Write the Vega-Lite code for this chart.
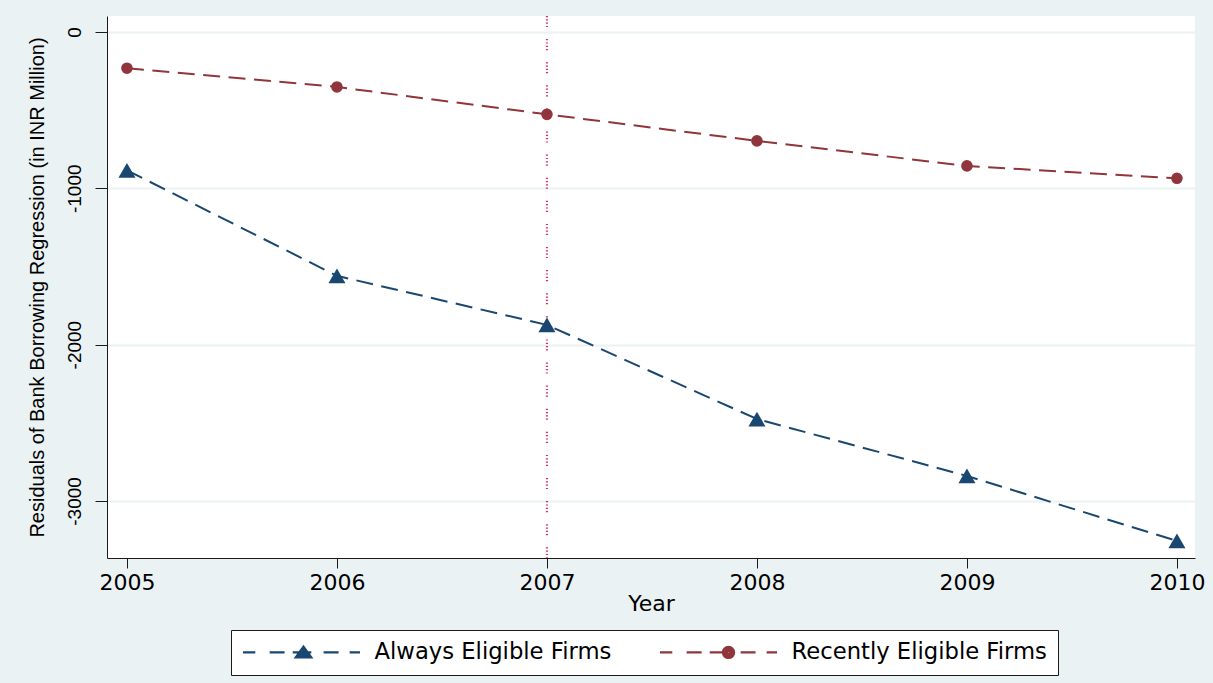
{
  "$schema": "https://vega.github.io/schema/vega-lite/v6.json",
  "width": 1088,
  "height": 542,
  "autosize": {"type": "none"},
  "padding": {"left": 107, "top": 16, "right": 18, "bottom": 125},
  "background": "#eaf2f3",
  "config": {
    "view": {"stroke": null, "fill": "white"},
    "axis": {
      "domainColor": "#1a1a1a",
      "domainWidth": 1,
      "tickColor": "#1a1a1a",
      "tickWidth": 1,
      "labelColor": "black",
      "titleColor": "black",
      "titleFontWeight": "normal",
      "labelFlush": false,
      "labelOverlap": false
    }
  },
  "data": {
    "values": [
      {"year": 2005, "series": "Always Eligible Firms", "value": -885},
      {"year": 2006, "series": "Always Eligible Firms", "value": -1560},
      {"year": 2007, "series": "Always Eligible Firms", "value": -1874},
      {"year": 2008, "series": "Always Eligible Firms", "value": -2476},
      {"year": 2009, "series": "Always Eligible Firms", "value": -2840},
      {"year": 2010, "series": "Always Eligible Firms", "value": -3256},
      {"year": 2005, "series": "Recently Eligible Firms", "value": -232},
      {"year": 2006, "series": "Recently Eligible Firms", "value": -352},
      {"year": 2007, "series": "Recently Eligible Firms", "value": -527},
      {"year": 2008, "series": "Recently Eligible Firms", "value": -697},
      {"year": 2009, "series": "Recently Eligible Firms", "value": -857},
      {"year": 2010, "series": "Recently Eligible Firms", "value": -936}
    ]
  },
  "encoding": {
    "x": {
      "field": "year",
      "type": "quantitative",
      "scale": {"domain": [2004.905, 2010.086], "nice": false, "zero": false},
      "axis": {
        "values": [2005, 2006, 2007, 2008, 2009, 2010],
        "format": "d",
        "grid": false,
        "tickSize": 10,
        "labelPadding": 4,
        "labelFont": "DejaVu Sans",
        "labelFontSize": 22,
        "title": "Year",
        "titleFont": "DejaVu Sans",
        "titleFontSize": 22,
        "titlePadding": 0
      }
    }
  },
  "layer": [
    {
      "data": {"values": [{"year": 2007}]},
      "mark": {
        "type": "rule",
        "color": "#d8305f",
        "strokeWidth": 2.2,
        "strokeDash": [1.2, 2.1, 1.2, 2.1, 1.2, 2.1, 1.2, 12]
      },
      "encoding": {"x": {"field": "year", "type": "quantitative"}}
    },
    {
      "transform": [{"filter": "datum.series === 'Always Eligible Firms'"}],
      "mark": {"type": "line", "color": "#1a476f", "strokeWidth": 2, "strokeDash": [17, 8.5]},
      "encoding": {
        "y": {
          "field": "value",
          "type": "quantitative",
          "scale": {"domain": [-3365, 102], "nice": false, "zero": false},
          "axis": {
            "values": [-3000, -2000, -1000, 0],
            "labelExpr": "'' + datum.value",
            "grid": true,
            "gridColor": "#eaf2f3",
            "gridWidth": 2,
            "tickSize": 12,
            "labelAngle": 270,
            "labelAlign": "center",
            "labelBaseline": "bottom",
            "labelPadding": 11,
            "labelFont": "Liberation Sans",
            "labelFontSize": 19,
            "title": "Residuals of Bank Borrowing Regression (in INR Million)",
            "titleFont": "Liberation Sans",
            "titleFontSize": 20,
            "titlePadding": 18
          }
        }
      }
    },
    {
      "transform": [{"filter": "datum.series === 'Recently Eligible Firms'"}],
      "mark": {"type": "line", "color": "#90353b", "strokeWidth": 2, "strokeDash": [17, 8.5]},
      "encoding": {"y": {"field": "value", "type": "quantitative"}}
    },
    {
      "transform": [{"filter": "datum.series === 'Always Eligible Firms'"}],
      "mark": {"type": "point", "shape": "triangle-up", "size": 290, "filled": true, "opacity": 1, "color": "#1a476f"},
      "encoding": {"y": {"field": "value", "type": "quantitative"}}
    },
    {
      "transform": [{"filter": "datum.series === 'Recently Eligible Firms'"}],
      "mark": {"type": "point", "shape": "circle", "size": 135, "filled": true, "opacity": 1, "color": "#90353b"},
      "encoding": {"y": {"field": "value", "type": "quantitative"}}
    },
    {
      "mark": {"type": "point", "filled": false, "opacity": 0, "size": 400, "strokeWidth": 2.2},
      "encoding": {
        "y": {"field": "value", "type": "quantitative"},
        "color": {
          "field": "series",
          "type": "nominal",
          "scale": {"domain": ["Always Eligible Firms", "Recently Eligible Firms"], "range": ["#1a476f", "#90353b"]},
          "legend": {
            "title": null,
            "orient": "none",
            "legendX": 124,
            "legendY": 614,
            "direction": "horizontal",
            "columns": 2,
            "gridAlign": "all",
            "padding": 10.5,
            "columnPadding": 25,
            "symbolSize": 400,
            "symbolOpacity": 1,
            "symbolStrokeWidth": 2.2,
            "labelOffset": 110,
            "labelLimit": 600,
            "labelFont": "DejaVu Sans",
            "labelFontSize": 22.7,
            "labelColor": "black",
            "fillColor": "white",
            "strokeColor": "#1a1a1a"
          }
        },
        "shape": {
          "field": "series",
          "type": "nominal",
          "scale": {
            "domain": ["Always Eligible Firms", "Recently Eligible Firms"],
            "range": [
              "M-1,0H0.23M1.66,0H3.16M3.97,0H5.83M7.06,0H8.56M9.66,0H10.7M5.05,-0.58L5.83,0.5L4.27,0.5ZM5.05,-0.436L5.674,0.428L4.426,0.428ZM5.05,-0.292L5.518,0.356L4.582,0.356ZM5.05,-0.184L5.401,0.302L4.699,0.302ZM5.05,-0.04L5.245,0.23L4.855,0.23Z",
              "M-1,0H0.23M1.66,0H3.16M3.97,0H5.73M7.06,0H8.56M9.66,0H10.7M5.29,0A0.56,0.56 0 1,0 6.41,0A0.56,0.56 0 1,0 5.29,0ZM5.39,0A0.46,0.46 0 1,0 6.31,0A0.46,0.46 0 1,0 5.39,0ZM5.49,0A0.36,0.36 0 1,0 6.21,0A0.36,0.36 0 1,0 5.49,0ZM5.59,0A0.26,0.26 0 1,0 6.11,0A0.26,0.26 0 1,0 5.59,0ZM5.69,0A0.16,0.16 0 1,0 6.01,0A0.16,0.16 0 1,0 5.69,0ZM5.78,0A0.07,0.07 0 1,0 5.92,0A0.07,0.07 0 1,0 5.78,0Z"
            ]
          },
          "legend": {
            "title": null,
            "orient": "none",
            "legendX": 124,
            "legendY": 614,
            "direction": "horizontal",
            "columns": 2,
            "gridAlign": "all",
            "padding": 10.5,
            "columnPadding": 25,
            "symbolSize": 400,
            "symbolOpacity": 1,
            "symbolStrokeWidth": 2.2,
            "labelOffset": 110,
            "labelLimit": 600,
            "labelFont": "DejaVu Sans",
            "labelFontSize": 22.7,
            "labelColor": "black",
            "fillColor": "white",
            "strokeColor": "#1a1a1a"
          }
        }
      }
    }
  ]
}
